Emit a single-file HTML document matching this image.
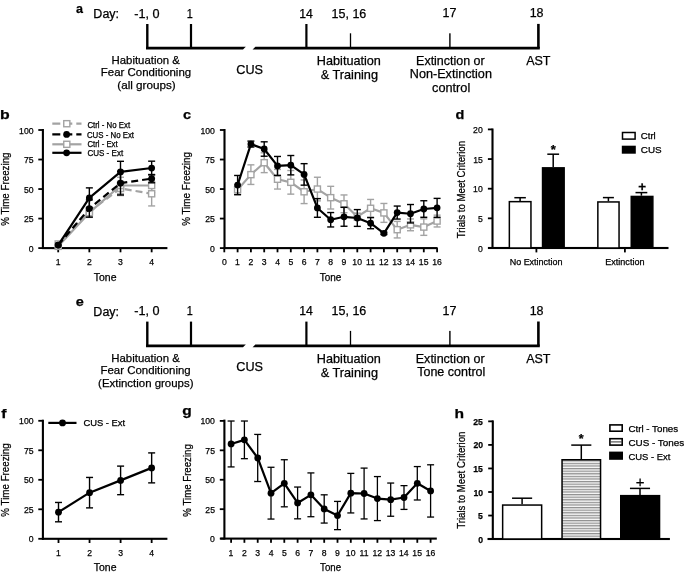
<!DOCTYPE html>
<html><head><meta charset="utf-8"><style>
html,body{margin:0;padding:0;background:#fff;}
svg{display:block;will-change:transform;filter:blur(0.3px);}
text{font-family:"Liberation Sans",sans-serif;stroke:#000;stroke-width:0.25px;}
</style></head><body>
<svg width="685" height="573" viewBox="0 0 685 573">
<rect width="685" height="573" fill="#fff"/>
<polygon points="146,46.80 245.8,46.80 243.0,49.60 146,49.60" fill="#000"/>
<polygon points="255.4,46.80 539.8,46.80 539.8,49.60 252.6,49.60" fill="#000"/>
<rect x="146.10" y="24.00" width="2.40" height="24.20" fill="#000"/>
<rect x="189.90" y="24.00" width="2.20" height="24.20" fill="#000"/>
<rect x="305.30" y="24.00" width="2.20" height="24.20" fill="#000"/>
<rect x="349.85" y="33.30" width="1.30" height="14.90" fill="#000"/>
<rect x="449.20" y="33.30" width="1.40" height="14.90" fill="#000"/>
<rect x="537.10" y="23.90" width="2.60" height="24.30" fill="#000"/>
<text x="93.38" y="18.30" font-size="12" fill="#000" textLength="25.66" lengthAdjust="spacingAndGlyphs">Day:</text>
<text x="134.34" y="17.80" font-size="12" fill="#000" textLength="25.34" lengthAdjust="spacingAndGlyphs">-1, 0</text>
<text x="186.77" y="17.50" font-size="12" fill="#000" textLength="6.05" lengthAdjust="spacingAndGlyphs">1</text>
<text x="299.17" y="17.50" font-size="12" fill="#000" textLength="13.59" lengthAdjust="spacingAndGlyphs">14</text>
<text x="331.55" y="17.50" font-size="12" fill="#000" textLength="34.79" lengthAdjust="spacingAndGlyphs">15, 16</text>
<text x="442.55" y="17.40" font-size="12" fill="#000" textLength="13.88" lengthAdjust="spacingAndGlyphs">17</text>
<text x="529.65" y="17.40" font-size="12" fill="#000" textLength="13.89" lengthAdjust="spacingAndGlyphs">18</text>
<text x="111.57" y="64.10" font-size="11.8" fill="#000" textLength="68.30" lengthAdjust="spacingAndGlyphs">Habituation &amp;</text>
<text x="100.86" y="76.40" font-size="11.8" fill="#000" textLength="90.28" lengthAdjust="spacingAndGlyphs">Fear Conditioning</text>
<text x="117.28" y="89.00" font-size="11.8" fill="#000" textLength="58.45" lengthAdjust="spacingAndGlyphs">(all groups)</text>
<text x="236.37" y="73.80" font-size="12.8" fill="#000" textLength="26.71" lengthAdjust="spacingAndGlyphs">CUS</text>
<text x="316.86" y="65.40" font-size="12.4" fill="#000" textLength="64.05" lengthAdjust="spacingAndGlyphs">Habituation</text>
<text x="320.65" y="78.70" font-size="12.4" fill="#000" textLength="57.37" lengthAdjust="spacingAndGlyphs">&amp; Training</text>
<text x="416.08" y="64.60" font-size="12.4" fill="#000" textLength="68.63" lengthAdjust="spacingAndGlyphs">Extinction or</text>
<text x="409.87" y="78.20" font-size="12.4" fill="#000" textLength="82.04" lengthAdjust="spacingAndGlyphs">Non-Extinction</text>
<text x="432.07" y="91.80" font-size="12.4" fill="#000" textLength="38.18" lengthAdjust="spacingAndGlyphs">control</text>
<text x="526.18" y="65.00" font-size="12.4" fill="#000" textLength="24.31" lengthAdjust="spacingAndGlyphs">AST</text>
<text x="75.94" y="12.80" font-size="13.5" font-weight="bold" fill="#000" textLength="6.98" lengthAdjust="spacingAndGlyphs">a</text>
<polygon points="146,344.40 245.8,344.40 243.0,347.20 146,347.20" fill="#000"/>
<polygon points="255.4,344.40 539.8,344.40 539.8,347.20 252.6,347.20" fill="#000"/>
<rect x="146.10" y="321.60" width="2.40" height="24.20" fill="#000"/>
<rect x="189.90" y="321.60" width="2.20" height="24.20" fill="#000"/>
<rect x="305.30" y="321.60" width="2.20" height="24.20" fill="#000"/>
<rect x="349.85" y="330.90" width="1.30" height="14.90" fill="#000"/>
<rect x="449.20" y="330.90" width="1.40" height="14.90" fill="#000"/>
<rect x="537.10" y="321.50" width="2.60" height="24.30" fill="#000"/>
<text x="93.38" y="315.90" font-size="12" fill="#000" textLength="25.66" lengthAdjust="spacingAndGlyphs">Day:</text>
<text x="134.34" y="315.40" font-size="12" fill="#000" textLength="25.34" lengthAdjust="spacingAndGlyphs">-1, 0</text>
<text x="186.77" y="315.10" font-size="12" fill="#000" textLength="6.05" lengthAdjust="spacingAndGlyphs">1</text>
<text x="299.17" y="315.10" font-size="12" fill="#000" textLength="13.59" lengthAdjust="spacingAndGlyphs">14</text>
<text x="331.55" y="315.10" font-size="12" fill="#000" textLength="34.79" lengthAdjust="spacingAndGlyphs">15, 16</text>
<text x="442.55" y="315.00" font-size="12" fill="#000" textLength="13.88" lengthAdjust="spacingAndGlyphs">17</text>
<text x="529.65" y="315.00" font-size="12" fill="#000" textLength="13.89" lengthAdjust="spacingAndGlyphs">18</text>
<text x="111.26" y="361.90" font-size="11.8" fill="#000" textLength="68.51" lengthAdjust="spacingAndGlyphs">Habituation &amp;</text>
<text x="100.46" y="374.40" font-size="11.8" fill="#000" textLength="90.28" lengthAdjust="spacingAndGlyphs">Fear Conditioning</text>
<text x="98.09" y="386.70" font-size="11.8" fill="#000" textLength="95.42" lengthAdjust="spacingAndGlyphs">(Extinction groups)</text>
<text x="236.37" y="371.40" font-size="12.8" fill="#000" textLength="26.71" lengthAdjust="spacingAndGlyphs">CUS</text>
<text x="316.86" y="363.10" font-size="12.4" fill="#000" textLength="64.05" lengthAdjust="spacingAndGlyphs">Habituation</text>
<text x="320.65" y="376.50" font-size="12.4" fill="#000" textLength="57.37" lengthAdjust="spacingAndGlyphs">&amp; Training</text>
<text x="415.77" y="362.50" font-size="12.4" fill="#000" textLength="68.93" lengthAdjust="spacingAndGlyphs">Extinction or</text>
<text x="417.23" y="376.10" font-size="12.4" fill="#000" textLength="68.10" lengthAdjust="spacingAndGlyphs">Tone control</text>
<text x="526.18" y="362.60" font-size="12.4" fill="#000" textLength="24.31" lengthAdjust="spacingAndGlyphs">AST</text>
<text x="75.83" y="306.00" font-size="13.5" font-weight="bold" fill="#000" textLength="8.06" lengthAdjust="spacingAndGlyphs">e</text>
<rect x="41.85" y="129.00" width="2.10" height="120.00" fill="#000"/>
<rect x="38.30" y="129.10" width="4.60" height="1.80" fill="#000"/>
<text x="19.10" y="133.50" font-size="9.3" fill="#000" textLength="14.43" lengthAdjust="spacingAndGlyphs">100</text>
<rect x="38.30" y="158.62" width="4.60" height="1.80" fill="#000"/>
<text x="23.94" y="163.02" font-size="9.3" fill="#000" textLength="9.62" lengthAdjust="spacingAndGlyphs">75</text>
<rect x="38.30" y="188.15" width="4.60" height="1.80" fill="#000"/>
<text x="23.91" y="192.55" font-size="9.3" fill="#000" textLength="9.62" lengthAdjust="spacingAndGlyphs">50</text>
<rect x="38.30" y="217.67" width="4.60" height="1.80" fill="#000"/>
<text x="23.94" y="222.07" font-size="9.3" fill="#000" textLength="9.62" lengthAdjust="spacingAndGlyphs">25</text>
<rect x="38.30" y="247.20" width="4.60" height="1.80" fill="#000"/>
<text x="28.72" y="251.60" font-size="9.3" fill="#000" textLength="4.81" lengthAdjust="spacingAndGlyphs">0</text>
<rect x="41.90" y="247.05" width="125.50" height="2.10" fill="#000"/>
<rect x="57.30" y="248.10" width="1.80" height="4.20" fill="#000"/>
<text x="55.67" y="264.80" font-size="9.3" fill="#000" textLength="4.81" lengthAdjust="spacingAndGlyphs">1</text>
<rect x="88.45" y="248.10" width="1.80" height="4.20" fill="#000"/>
<text x="86.95" y="264.80" font-size="9.3" fill="#000" textLength="4.81" lengthAdjust="spacingAndGlyphs">2</text>
<rect x="119.60" y="248.10" width="1.80" height="4.20" fill="#000"/>
<text x="118.12" y="264.80" font-size="9.3" fill="#000" textLength="4.81" lengthAdjust="spacingAndGlyphs">3</text>
<rect x="150.75" y="248.10" width="1.80" height="4.20" fill="#000"/>
<text x="149.28" y="264.80" font-size="9.3" fill="#000" textLength="4.81" lengthAdjust="spacingAndGlyphs">4</text>
<text x="93.77" y="280.70" font-size="10" fill="#000" textLength="22.70" lengthAdjust="spacingAndGlyphs">Tone</text>
<text transform="translate(8.92,225.50) rotate(-90)" x="-0.34" y="0" font-size="10.5" textLength="73.37" lengthAdjust="spacingAndGlyphs">% Time Freezing</text>
<text x="-0.13" y="119.00" font-size="13.5" font-weight="bold" fill="#000" textLength="9.68" lengthAdjust="spacingAndGlyphs">b</text>
<line x1="89.35" y1="211.49" x2="89.35" y2="206.76" stroke="#a3a3a3" stroke-width="1.4"/>
<line x1="85.85" y1="206.76" x2="92.85" y2="206.76" stroke="#a3a3a3" stroke-width="1.4"/>
<line x1="89.35" y1="211.49" x2="89.35" y2="216.21" stroke="#a3a3a3" stroke-width="1.4"/>
<line x1="85.85" y1="216.21" x2="92.85" y2="216.21" stroke="#a3a3a3" stroke-width="1.4"/>
<line x1="120.50" y1="188.46" x2="120.50" y2="181.37" stroke="#a3a3a3" stroke-width="1.4"/>
<line x1="117.00" y1="181.37" x2="124.00" y2="181.37" stroke="#a3a3a3" stroke-width="1.4"/>
<line x1="120.50" y1="188.46" x2="120.50" y2="195.55" stroke="#a3a3a3" stroke-width="1.4"/>
<line x1="117.00" y1="195.55" x2="124.00" y2="195.55" stroke="#a3a3a3" stroke-width="1.4"/>
<line x1="151.65" y1="193.77" x2="151.65" y2="181.61" stroke="#a3a3a3" stroke-width="1.4"/>
<line x1="148.15" y1="181.61" x2="155.15" y2="181.61" stroke="#a3a3a3" stroke-width="1.4"/>
<line x1="151.65" y1="193.77" x2="151.65" y2="205.94" stroke="#a3a3a3" stroke-width="1.4"/>
<line x1="148.15" y1="205.94" x2="155.15" y2="205.94" stroke="#a3a3a3" stroke-width="1.4"/>
<line x1="89.35" y1="212.67" x2="89.35" y2="207.95" stroke="#a3a3a3" stroke-width="1.4"/>
<line x1="85.85" y1="207.95" x2="92.85" y2="207.95" stroke="#a3a3a3" stroke-width="1.4"/>
<line x1="89.35" y1="212.67" x2="89.35" y2="217.39" stroke="#a3a3a3" stroke-width="1.4"/>
<line x1="85.85" y1="217.39" x2="92.85" y2="217.39" stroke="#a3a3a3" stroke-width="1.4"/>
<line x1="120.50" y1="185.51" x2="120.50" y2="177.24" stroke="#a3a3a3" stroke-width="1.4"/>
<line x1="117.00" y1="177.24" x2="124.00" y2="177.24" stroke="#a3a3a3" stroke-width="1.4"/>
<line x1="120.50" y1="185.51" x2="120.50" y2="193.77" stroke="#a3a3a3" stroke-width="1.4"/>
<line x1="117.00" y1="193.77" x2="124.00" y2="193.77" stroke="#a3a3a3" stroke-width="1.4"/>
<line x1="151.65" y1="185.51" x2="151.65" y2="178.42" stroke="#a3a3a3" stroke-width="1.4"/>
<line x1="148.15" y1="178.42" x2="155.15" y2="178.42" stroke="#a3a3a3" stroke-width="1.4"/>
<line x1="151.65" y1="185.51" x2="151.65" y2="192.59" stroke="#a3a3a3" stroke-width="1.4"/>
<line x1="148.15" y1="192.59" x2="155.15" y2="192.59" stroke="#a3a3a3" stroke-width="1.4"/>
<polyline points="58.20,243.97 89.35,211.49 120.50,188.46 151.65,193.77" fill="none" stroke="#a3a3a3" stroke-width="2.2" stroke-linejoin="round" stroke-dasharray="7,4"/>
<polyline points="58.20,246.33 89.35,212.67 120.50,185.51 151.65,185.51" fill="none" stroke="#a3a3a3" stroke-width="2.2" stroke-linejoin="round"/>
<rect x="55.15" y="240.92" width="6.10" height="6.10" fill="#fff" stroke="#a3a3a3" stroke-width="1.4"/>
<rect x="86.30" y="208.44" width="6.10" height="6.10" fill="#fff" stroke="#a3a3a3" stroke-width="1.4"/>
<rect x="117.45" y="185.41" width="6.10" height="6.10" fill="#fff" stroke="#a3a3a3" stroke-width="1.4"/>
<rect x="148.60" y="190.72" width="6.10" height="6.10" fill="#fff" stroke="#a3a3a3" stroke-width="1.4"/>
<rect x="55.15" y="243.28" width="6.10" height="6.10" fill="#fff" stroke="#a3a3a3" stroke-width="1.4"/>
<rect x="86.30" y="209.62" width="6.10" height="6.10" fill="#fff" stroke="#a3a3a3" stroke-width="1.4"/>
<rect x="117.45" y="182.46" width="6.10" height="6.10" fill="#fff" stroke="#a3a3a3" stroke-width="1.4"/>
<rect x="148.60" y="182.46" width="6.10" height="6.10" fill="#fff" stroke="#a3a3a3" stroke-width="1.4"/>
<line x1="89.35" y1="208.54" x2="89.35" y2="199.92" stroke="#000" stroke-width="1.4"/>
<line x1="85.85" y1="199.92" x2="92.85" y2="199.92" stroke="#000" stroke-width="1.4"/>
<line x1="89.35" y1="208.54" x2="89.35" y2="217.16" stroke="#000" stroke-width="1.4"/>
<line x1="85.85" y1="217.16" x2="92.85" y2="217.16" stroke="#000" stroke-width="1.4"/>
<line x1="120.50" y1="183.14" x2="120.50" y2="171.33" stroke="#000" stroke-width="1.4"/>
<line x1="117.00" y1="171.33" x2="124.00" y2="171.33" stroke="#000" stroke-width="1.4"/>
<line x1="120.50" y1="183.14" x2="120.50" y2="194.95" stroke="#000" stroke-width="1.4"/>
<line x1="117.00" y1="194.95" x2="124.00" y2="194.95" stroke="#000" stroke-width="1.4"/>
<line x1="151.65" y1="178.66" x2="151.65" y2="174.52" stroke="#000" stroke-width="1.4"/>
<line x1="148.15" y1="174.52" x2="155.15" y2="174.52" stroke="#000" stroke-width="1.4"/>
<line x1="151.65" y1="178.66" x2="151.65" y2="182.79" stroke="#000" stroke-width="1.4"/>
<line x1="148.15" y1="182.79" x2="155.15" y2="182.79" stroke="#000" stroke-width="1.4"/>
<line x1="89.35" y1="197.91" x2="89.35" y2="187.87" stroke="#000" stroke-width="1.4"/>
<line x1="85.85" y1="187.87" x2="92.85" y2="187.87" stroke="#000" stroke-width="1.4"/>
<line x1="89.35" y1="197.91" x2="89.35" y2="207.95" stroke="#000" stroke-width="1.4"/>
<line x1="85.85" y1="207.95" x2="92.85" y2="207.95" stroke="#000" stroke-width="1.4"/>
<line x1="120.50" y1="171.93" x2="120.50" y2="161.30" stroke="#000" stroke-width="1.4"/>
<line x1="117.00" y1="161.30" x2="124.00" y2="161.30" stroke="#000" stroke-width="1.4"/>
<line x1="120.50" y1="171.93" x2="120.50" y2="182.55" stroke="#000" stroke-width="1.4"/>
<line x1="117.00" y1="182.55" x2="124.00" y2="182.55" stroke="#000" stroke-width="1.4"/>
<line x1="151.65" y1="168.03" x2="151.65" y2="161.18" stroke="#000" stroke-width="1.4"/>
<line x1="148.15" y1="161.18" x2="155.15" y2="161.18" stroke="#000" stroke-width="1.4"/>
<line x1="151.65" y1="168.03" x2="151.65" y2="174.88" stroke="#000" stroke-width="1.4"/>
<line x1="148.15" y1="174.88" x2="155.15" y2="174.88" stroke="#000" stroke-width="1.4"/>
<polyline points="58.20,245.03 89.35,208.54 120.50,183.14 151.65,178.66" fill="none" stroke="#000" stroke-width="2.2" stroke-linejoin="round" stroke-dasharray="7,4"/>
<polyline points="58.20,245.03 89.35,197.91 120.50,171.93 151.65,168.03" fill="none" stroke="#000" stroke-width="2.2" stroke-linejoin="round"/>
<circle cx="58.20" cy="245.03" r="3.4" fill="#000"/>
<circle cx="89.35" cy="208.54" r="3.4" fill="#000"/>
<circle cx="120.50" cy="183.14" r="3.4" fill="#000"/>
<circle cx="151.65" cy="178.66" r="3.4" fill="#000"/>
<circle cx="58.20" cy="245.03" r="3.4" fill="#000"/>
<circle cx="89.35" cy="197.91" r="3.4" fill="#000"/>
<circle cx="120.50" cy="171.93" r="3.4" fill="#000"/>
<circle cx="151.65" cy="168.03" r="3.4" fill="#000"/>
<polyline points="52.30,123.70 81.50,123.70" fill="none" stroke="#a3a3a3" stroke-width="2.2" stroke-linejoin="round" stroke-dasharray="8,4"/>
<rect x="63.75" y="120.65" width="6.10" height="6.10" fill="#fff" stroke="#a3a3a3" stroke-width="1.4"/>
<text x="87.41" y="128.00" font-size="8.4" fill="#000" textLength="42.75" lengthAdjust="spacingAndGlyphs">Ctrl - No Ext</text>
<polyline points="52.30,134.40 81.50,134.40" fill="none" stroke="#000" stroke-width="2.2" stroke-linejoin="round" stroke-dasharray="8,4"/>
<circle cx="66.60" cy="134.40" r="3.4" fill="#000"/>
<text x="86.91" y="137.70" font-size="8.4" fill="#000" textLength="47.15" lengthAdjust="spacingAndGlyphs">CUS - No Ext</text>
<polyline points="52.30,144.30 81.50,144.30" fill="none" stroke="#a3a3a3" stroke-width="2.2" stroke-linejoin="round"/>
<rect x="63.75" y="141.25" width="6.10" height="6.10" fill="#fff" stroke="#a3a3a3" stroke-width="1.4"/>
<text x="87.41" y="147.20" font-size="8.4" fill="#000" textLength="30.24" lengthAdjust="spacingAndGlyphs">Ctrl - Ext</text>
<polyline points="52.30,152.80 81.50,152.80" fill="none" stroke="#000" stroke-width="2.2" stroke-linejoin="round"/>
<circle cx="66.60" cy="152.80" r="3.4" fill="#000"/>
<text x="87.40" y="155.50" font-size="8.4" fill="#000" textLength="35.76" lengthAdjust="spacingAndGlyphs">CUS - Ext</text>
<rect x="223.45" y="129.00" width="2.10" height="120.00" fill="#000"/>
<rect x="219.90" y="129.10" width="4.60" height="1.80" fill="#000"/>
<text x="200.40" y="133.50" font-size="9.3" fill="#000" textLength="14.43" lengthAdjust="spacingAndGlyphs">100</text>
<rect x="219.90" y="158.62" width="4.60" height="1.80" fill="#000"/>
<text x="205.24" y="163.02" font-size="9.3" fill="#000" textLength="9.62" lengthAdjust="spacingAndGlyphs">75</text>
<rect x="219.90" y="188.15" width="4.60" height="1.80" fill="#000"/>
<text x="205.21" y="192.55" font-size="9.3" fill="#000" textLength="9.62" lengthAdjust="spacingAndGlyphs">50</text>
<rect x="219.90" y="217.67" width="4.60" height="1.80" fill="#000"/>
<text x="205.24" y="222.07" font-size="9.3" fill="#000" textLength="9.62" lengthAdjust="spacingAndGlyphs">25</text>
<rect x="219.90" y="247.20" width="4.60" height="1.80" fill="#000"/>
<text x="210.02" y="251.60" font-size="9.3" fill="#000" textLength="4.81" lengthAdjust="spacingAndGlyphs">0</text>
<rect x="223.50" y="247.05" width="214.10" height="2.10" fill="#000"/>
<rect x="223.40" y="248.10" width="1.80" height="4.20" fill="#000"/>
<text x="221.89" y="264.80" font-size="9.3" fill="#000" textLength="4.81" lengthAdjust="spacingAndGlyphs">0</text>
<rect x="236.70" y="248.10" width="1.80" height="4.20" fill="#000"/>
<text x="235.07" y="264.80" font-size="9.3" fill="#000" textLength="4.81" lengthAdjust="spacingAndGlyphs">1</text>
<rect x="250.00" y="248.10" width="1.80" height="4.20" fill="#000"/>
<text x="248.50" y="264.80" font-size="9.3" fill="#000" textLength="4.81" lengthAdjust="spacingAndGlyphs">2</text>
<rect x="263.30" y="248.10" width="1.80" height="4.20" fill="#000"/>
<text x="261.82" y="264.80" font-size="9.3" fill="#000" textLength="4.81" lengthAdjust="spacingAndGlyphs">3</text>
<rect x="276.60" y="248.10" width="1.80" height="4.20" fill="#000"/>
<text x="275.13" y="264.80" font-size="9.3" fill="#000" textLength="4.81" lengthAdjust="spacingAndGlyphs">4</text>
<rect x="289.90" y="248.10" width="1.80" height="4.20" fill="#000"/>
<text x="288.40" y="264.80" font-size="9.3" fill="#000" textLength="4.81" lengthAdjust="spacingAndGlyphs">5</text>
<rect x="303.20" y="248.10" width="1.80" height="4.20" fill="#000"/>
<text x="301.67" y="264.80" font-size="9.3" fill="#000" textLength="4.81" lengthAdjust="spacingAndGlyphs">6</text>
<rect x="316.50" y="248.10" width="1.80" height="4.20" fill="#000"/>
<text x="314.99" y="264.80" font-size="9.3" fill="#000" textLength="4.81" lengthAdjust="spacingAndGlyphs">7</text>
<rect x="329.80" y="248.10" width="1.80" height="4.20" fill="#000"/>
<text x="328.30" y="264.80" font-size="9.3" fill="#000" textLength="4.81" lengthAdjust="spacingAndGlyphs">8</text>
<rect x="343.10" y="248.10" width="1.80" height="4.20" fill="#000"/>
<text x="341.60" y="264.80" font-size="9.3" fill="#000" textLength="4.81" lengthAdjust="spacingAndGlyphs">9</text>
<rect x="356.40" y="248.10" width="1.80" height="4.20" fill="#000"/>
<text x="352.33" y="264.80" font-size="9.3" fill="#000" textLength="9.62" lengthAdjust="spacingAndGlyphs">10</text>
<rect x="369.70" y="248.10" width="1.80" height="4.20" fill="#000"/>
<text x="365.99" y="264.80" font-size="9.3" fill="#000" textLength="8.98" lengthAdjust="spacingAndGlyphs">11</text>
<rect x="383.00" y="248.10" width="1.80" height="4.20" fill="#000"/>
<text x="378.98" y="264.80" font-size="9.3" fill="#000" textLength="9.62" lengthAdjust="spacingAndGlyphs">12</text>
<rect x="396.30" y="248.10" width="1.80" height="4.20" fill="#000"/>
<text x="392.25" y="264.80" font-size="9.3" fill="#000" textLength="9.62" lengthAdjust="spacingAndGlyphs">13</text>
<rect x="409.60" y="248.10" width="1.80" height="4.20" fill="#000"/>
<text x="405.49" y="264.80" font-size="9.3" fill="#000" textLength="9.62" lengthAdjust="spacingAndGlyphs">14</text>
<rect x="422.90" y="248.10" width="1.80" height="4.20" fill="#000"/>
<text x="418.84" y="264.80" font-size="9.3" fill="#000" textLength="9.62" lengthAdjust="spacingAndGlyphs">15</text>
<rect x="436.20" y="248.10" width="1.80" height="4.20" fill="#000"/>
<text x="432.15" y="264.80" font-size="9.3" fill="#000" textLength="9.62" lengthAdjust="spacingAndGlyphs">16</text>
<text x="319.78" y="280.80" font-size="10" fill="#000" textLength="21.56" lengthAdjust="spacingAndGlyphs">Tone</text>
<text transform="translate(190.22,225.50) rotate(-90)" x="-0.34" y="0" font-size="10.5" textLength="73.78" lengthAdjust="spacingAndGlyphs">% Time Freezing</text>
<text x="183.03" y="119.10" font-size="13.5" font-weight="bold" fill="#000" textLength="8.09" lengthAdjust="spacingAndGlyphs">c</text>
<line x1="237.60" y1="189.76" x2="237.60" y2="184.68" stroke="#a3a3a3" stroke-width="1.4"/>
<line x1="234.10" y1="184.68" x2="241.10" y2="184.68" stroke="#a3a3a3" stroke-width="1.4"/>
<line x1="237.60" y1="189.76" x2="237.60" y2="194.84" stroke="#a3a3a3" stroke-width="1.4"/>
<line x1="234.10" y1="194.84" x2="241.10" y2="194.84" stroke="#a3a3a3" stroke-width="1.4"/>
<line x1="250.90" y1="174.64" x2="250.90" y2="164.84" stroke="#a3a3a3" stroke-width="1.4"/>
<line x1="247.40" y1="164.84" x2="254.40" y2="164.84" stroke="#a3a3a3" stroke-width="1.4"/>
<line x1="250.90" y1="174.64" x2="250.90" y2="184.44" stroke="#a3a3a3" stroke-width="1.4"/>
<line x1="247.40" y1="184.44" x2="254.40" y2="184.44" stroke="#a3a3a3" stroke-width="1.4"/>
<line x1="264.20" y1="162.71" x2="264.20" y2="152.79" stroke="#a3a3a3" stroke-width="1.4"/>
<line x1="260.70" y1="152.79" x2="267.70" y2="152.79" stroke="#a3a3a3" stroke-width="1.4"/>
<line x1="264.20" y1="162.71" x2="264.20" y2="172.63" stroke="#a3a3a3" stroke-width="1.4"/>
<line x1="260.70" y1="172.63" x2="267.70" y2="172.63" stroke="#a3a3a3" stroke-width="1.4"/>
<line x1="277.50" y1="179.25" x2="277.50" y2="169.45" stroke="#a3a3a3" stroke-width="1.4"/>
<line x1="274.00" y1="169.45" x2="281.00" y2="169.45" stroke="#a3a3a3" stroke-width="1.4"/>
<line x1="277.50" y1="179.25" x2="277.50" y2="189.05" stroke="#a3a3a3" stroke-width="1.4"/>
<line x1="274.00" y1="189.05" x2="281.00" y2="189.05" stroke="#a3a3a3" stroke-width="1.4"/>
<line x1="290.80" y1="182.32" x2="290.80" y2="170.51" stroke="#a3a3a3" stroke-width="1.4"/>
<line x1="287.30" y1="170.51" x2="294.30" y2="170.51" stroke="#a3a3a3" stroke-width="1.4"/>
<line x1="290.80" y1="182.32" x2="290.80" y2="194.13" stroke="#a3a3a3" stroke-width="1.4"/>
<line x1="287.30" y1="194.13" x2="294.30" y2="194.13" stroke="#a3a3a3" stroke-width="1.4"/>
<line x1="304.10" y1="191.77" x2="304.10" y2="179.96" stroke="#a3a3a3" stroke-width="1.4"/>
<line x1="300.60" y1="179.96" x2="307.60" y2="179.96" stroke="#a3a3a3" stroke-width="1.4"/>
<line x1="304.10" y1="191.77" x2="304.10" y2="203.58" stroke="#a3a3a3" stroke-width="1.4"/>
<line x1="300.60" y1="203.58" x2="307.60" y2="203.58" stroke="#a3a3a3" stroke-width="1.4"/>
<line x1="317.40" y1="189.05" x2="317.40" y2="177.24" stroke="#a3a3a3" stroke-width="1.4"/>
<line x1="313.90" y1="177.24" x2="320.90" y2="177.24" stroke="#a3a3a3" stroke-width="1.4"/>
<line x1="317.40" y1="189.05" x2="317.40" y2="200.86" stroke="#a3a3a3" stroke-width="1.4"/>
<line x1="313.90" y1="200.86" x2="320.90" y2="200.86" stroke="#a3a3a3" stroke-width="1.4"/>
<line x1="330.70" y1="197.67" x2="330.70" y2="186.33" stroke="#a3a3a3" stroke-width="1.4"/>
<line x1="327.20" y1="186.33" x2="334.20" y2="186.33" stroke="#a3a3a3" stroke-width="1.4"/>
<line x1="330.70" y1="197.67" x2="330.70" y2="209.01" stroke="#a3a3a3" stroke-width="1.4"/>
<line x1="327.20" y1="209.01" x2="334.20" y2="209.01" stroke="#a3a3a3" stroke-width="1.4"/>
<line x1="344.00" y1="203.81" x2="344.00" y2="194.95" stroke="#a3a3a3" stroke-width="1.4"/>
<line x1="340.50" y1="194.95" x2="347.50" y2="194.95" stroke="#a3a3a3" stroke-width="1.4"/>
<line x1="344.00" y1="203.81" x2="344.00" y2="212.67" stroke="#a3a3a3" stroke-width="1.4"/>
<line x1="340.50" y1="212.67" x2="347.50" y2="212.67" stroke="#a3a3a3" stroke-width="1.4"/>
<line x1="357.30" y1="216.69" x2="357.30" y2="213.14" stroke="#a3a3a3" stroke-width="1.4"/>
<line x1="353.80" y1="213.14" x2="360.80" y2="213.14" stroke="#a3a3a3" stroke-width="1.4"/>
<line x1="357.30" y1="216.69" x2="357.30" y2="220.23" stroke="#a3a3a3" stroke-width="1.4"/>
<line x1="353.80" y1="220.23" x2="360.80" y2="220.23" stroke="#a3a3a3" stroke-width="1.4"/>
<line x1="370.60" y1="208.30" x2="370.60" y2="199.44" stroke="#a3a3a3" stroke-width="1.4"/>
<line x1="367.10" y1="199.44" x2="374.10" y2="199.44" stroke="#a3a3a3" stroke-width="1.4"/>
<line x1="370.60" y1="208.30" x2="370.60" y2="217.16" stroke="#a3a3a3" stroke-width="1.4"/>
<line x1="367.10" y1="217.16" x2="374.10" y2="217.16" stroke="#a3a3a3" stroke-width="1.4"/>
<line x1="383.90" y1="212.91" x2="383.90" y2="203.46" stroke="#a3a3a3" stroke-width="1.4"/>
<line x1="380.40" y1="203.46" x2="387.40" y2="203.46" stroke="#a3a3a3" stroke-width="1.4"/>
<line x1="383.90" y1="212.91" x2="383.90" y2="222.35" stroke="#a3a3a3" stroke-width="1.4"/>
<line x1="380.40" y1="222.35" x2="387.40" y2="222.35" stroke="#a3a3a3" stroke-width="1.4"/>
<line x1="397.20" y1="229.68" x2="397.20" y2="221.41" stroke="#a3a3a3" stroke-width="1.4"/>
<line x1="393.70" y1="221.41" x2="400.70" y2="221.41" stroke="#a3a3a3" stroke-width="1.4"/>
<line x1="397.20" y1="229.68" x2="397.20" y2="237.94" stroke="#a3a3a3" stroke-width="1.4"/>
<line x1="393.70" y1="237.94" x2="400.70" y2="237.94" stroke="#a3a3a3" stroke-width="1.4"/>
<line x1="410.50" y1="224.83" x2="410.50" y2="218.93" stroke="#a3a3a3" stroke-width="1.4"/>
<line x1="407.00" y1="218.93" x2="414.00" y2="218.93" stroke="#a3a3a3" stroke-width="1.4"/>
<line x1="410.50" y1="224.83" x2="410.50" y2="230.74" stroke="#a3a3a3" stroke-width="1.4"/>
<line x1="407.00" y1="230.74" x2="414.00" y2="230.74" stroke="#a3a3a3" stroke-width="1.4"/>
<line x1="423.80" y1="227.08" x2="423.80" y2="218.81" stroke="#a3a3a3" stroke-width="1.4"/>
<line x1="420.30" y1="218.81" x2="427.30" y2="218.81" stroke="#a3a3a3" stroke-width="1.4"/>
<line x1="423.80" y1="227.08" x2="423.80" y2="235.35" stroke="#a3a3a3" stroke-width="1.4"/>
<line x1="420.30" y1="235.35" x2="427.30" y2="235.35" stroke="#a3a3a3" stroke-width="1.4"/>
<line x1="437.10" y1="221.06" x2="437.10" y2="215.15" stroke="#a3a3a3" stroke-width="1.4"/>
<line x1="433.60" y1="215.15" x2="440.60" y2="215.15" stroke="#a3a3a3" stroke-width="1.4"/>
<line x1="437.10" y1="221.06" x2="437.10" y2="226.96" stroke="#a3a3a3" stroke-width="1.4"/>
<line x1="433.60" y1="226.96" x2="440.60" y2="226.96" stroke="#a3a3a3" stroke-width="1.4"/>
<polyline points="237.60,189.76 250.90,174.64 264.20,162.71 277.50,179.25 290.80,182.32 304.10,191.77 317.40,189.05 330.70,197.67 344.00,203.81 357.30,216.69 370.60,208.30 383.90,212.91 397.20,229.68 410.50,224.83 423.80,227.08 437.10,221.06" fill="none" stroke="#a3a3a3" stroke-width="2.2" stroke-linejoin="round"/>
<rect x="234.55" y="186.71" width="6.10" height="6.10" fill="#fff" stroke="#a3a3a3" stroke-width="1.4"/>
<rect x="247.85" y="171.59" width="6.10" height="6.10" fill="#fff" stroke="#a3a3a3" stroke-width="1.4"/>
<rect x="261.15" y="159.66" width="6.10" height="6.10" fill="#fff" stroke="#a3a3a3" stroke-width="1.4"/>
<rect x="274.45" y="176.20" width="6.10" height="6.10" fill="#fff" stroke="#a3a3a3" stroke-width="1.4"/>
<rect x="287.75" y="179.27" width="6.10" height="6.10" fill="#fff" stroke="#a3a3a3" stroke-width="1.4"/>
<rect x="301.05" y="188.72" width="6.10" height="6.10" fill="#fff" stroke="#a3a3a3" stroke-width="1.4"/>
<rect x="314.35" y="186.00" width="6.10" height="6.10" fill="#fff" stroke="#a3a3a3" stroke-width="1.4"/>
<rect x="327.65" y="194.62" width="6.10" height="6.10" fill="#fff" stroke="#a3a3a3" stroke-width="1.4"/>
<rect x="340.95" y="200.76" width="6.10" height="6.10" fill="#fff" stroke="#a3a3a3" stroke-width="1.4"/>
<rect x="354.25" y="213.64" width="6.10" height="6.10" fill="#fff" stroke="#a3a3a3" stroke-width="1.4"/>
<rect x="367.55" y="205.25" width="6.10" height="6.10" fill="#fff" stroke="#a3a3a3" stroke-width="1.4"/>
<rect x="380.85" y="209.86" width="6.10" height="6.10" fill="#fff" stroke="#a3a3a3" stroke-width="1.4"/>
<rect x="394.15" y="226.63" width="6.10" height="6.10" fill="#fff" stroke="#a3a3a3" stroke-width="1.4"/>
<rect x="407.45" y="221.78" width="6.10" height="6.10" fill="#fff" stroke="#a3a3a3" stroke-width="1.4"/>
<rect x="420.75" y="224.03" width="6.10" height="6.10" fill="#fff" stroke="#a3a3a3" stroke-width="1.4"/>
<rect x="434.05" y="218.01" width="6.10" height="6.10" fill="#fff" stroke="#a3a3a3" stroke-width="1.4"/>
<line x1="237.60" y1="185.03" x2="237.60" y2="175.47" stroke="#000" stroke-width="1.4"/>
<line x1="234.10" y1="175.47" x2="241.10" y2="175.47" stroke="#000" stroke-width="1.4"/>
<line x1="237.60" y1="185.03" x2="237.60" y2="194.60" stroke="#000" stroke-width="1.4"/>
<line x1="234.10" y1="194.60" x2="241.10" y2="194.60" stroke="#000" stroke-width="1.4"/>
<line x1="250.90" y1="144.05" x2="250.90" y2="141.10" stroke="#000" stroke-width="1.4"/>
<line x1="247.40" y1="141.10" x2="254.40" y2="141.10" stroke="#000" stroke-width="1.4"/>
<line x1="250.90" y1="144.05" x2="250.90" y2="147.01" stroke="#000" stroke-width="1.4"/>
<line x1="247.40" y1="147.01" x2="254.40" y2="147.01" stroke="#000" stroke-width="1.4"/>
<line x1="264.20" y1="149.01" x2="264.20" y2="141.81" stroke="#000" stroke-width="1.4"/>
<line x1="260.70" y1="141.81" x2="267.70" y2="141.81" stroke="#000" stroke-width="1.4"/>
<line x1="264.20" y1="149.01" x2="264.20" y2="156.22" stroke="#000" stroke-width="1.4"/>
<line x1="260.70" y1="156.22" x2="267.70" y2="156.22" stroke="#000" stroke-width="1.4"/>
<line x1="277.50" y1="165.90" x2="277.50" y2="156.45" stroke="#000" stroke-width="1.4"/>
<line x1="274.00" y1="156.45" x2="281.00" y2="156.45" stroke="#000" stroke-width="1.4"/>
<line x1="277.50" y1="165.90" x2="277.50" y2="175.35" stroke="#000" stroke-width="1.4"/>
<line x1="274.00" y1="175.35" x2="281.00" y2="175.35" stroke="#000" stroke-width="1.4"/>
<line x1="290.80" y1="165.19" x2="290.80" y2="155.51" stroke="#000" stroke-width="1.4"/>
<line x1="287.30" y1="155.51" x2="294.30" y2="155.51" stroke="#000" stroke-width="1.4"/>
<line x1="290.80" y1="165.19" x2="290.80" y2="174.88" stroke="#000" stroke-width="1.4"/>
<line x1="287.30" y1="174.88" x2="294.30" y2="174.88" stroke="#000" stroke-width="1.4"/>
<line x1="304.10" y1="174.41" x2="304.10" y2="163.66" stroke="#000" stroke-width="1.4"/>
<line x1="300.60" y1="163.66" x2="307.60" y2="163.66" stroke="#000" stroke-width="1.4"/>
<line x1="304.10" y1="174.41" x2="304.10" y2="185.15" stroke="#000" stroke-width="1.4"/>
<line x1="300.60" y1="185.15" x2="307.60" y2="185.15" stroke="#000" stroke-width="1.4"/>
<line x1="317.40" y1="207.95" x2="317.40" y2="198.62" stroke="#000" stroke-width="1.4"/>
<line x1="313.90" y1="198.62" x2="320.90" y2="198.62" stroke="#000" stroke-width="1.4"/>
<line x1="317.40" y1="207.95" x2="317.40" y2="217.28" stroke="#000" stroke-width="1.4"/>
<line x1="313.90" y1="217.28" x2="320.90" y2="217.28" stroke="#000" stroke-width="1.4"/>
<line x1="330.70" y1="219.76" x2="330.70" y2="212.55" stroke="#000" stroke-width="1.4"/>
<line x1="327.20" y1="212.55" x2="334.20" y2="212.55" stroke="#000" stroke-width="1.4"/>
<line x1="330.70" y1="219.76" x2="330.70" y2="226.96" stroke="#000" stroke-width="1.4"/>
<line x1="327.20" y1="226.96" x2="334.20" y2="226.96" stroke="#000" stroke-width="1.4"/>
<line x1="344.00" y1="216.80" x2="344.00" y2="207.36" stroke="#000" stroke-width="1.4"/>
<line x1="340.50" y1="207.36" x2="347.50" y2="207.36" stroke="#000" stroke-width="1.4"/>
<line x1="344.00" y1="216.80" x2="344.00" y2="226.25" stroke="#000" stroke-width="1.4"/>
<line x1="340.50" y1="226.25" x2="347.50" y2="226.25" stroke="#000" stroke-width="1.4"/>
<line x1="357.30" y1="217.98" x2="357.30" y2="209.60" stroke="#000" stroke-width="1.4"/>
<line x1="353.80" y1="209.60" x2="360.80" y2="209.60" stroke="#000" stroke-width="1.4"/>
<line x1="357.30" y1="217.98" x2="357.30" y2="226.37" stroke="#000" stroke-width="1.4"/>
<line x1="353.80" y1="226.37" x2="360.80" y2="226.37" stroke="#000" stroke-width="1.4"/>
<line x1="370.60" y1="223.18" x2="370.60" y2="217.63" stroke="#000" stroke-width="1.4"/>
<line x1="367.10" y1="217.63" x2="374.10" y2="217.63" stroke="#000" stroke-width="1.4"/>
<line x1="370.60" y1="223.18" x2="370.60" y2="228.73" stroke="#000" stroke-width="1.4"/>
<line x1="367.10" y1="228.73" x2="374.10" y2="228.73" stroke="#000" stroke-width="1.4"/>
<line x1="383.90" y1="233.34" x2="383.90" y2="232.16" stroke="#000" stroke-width="1.4"/>
<line x1="380.40" y1="232.16" x2="387.40" y2="232.16" stroke="#000" stroke-width="1.4"/>
<line x1="383.90" y1="233.34" x2="383.90" y2="234.52" stroke="#000" stroke-width="1.4"/>
<line x1="380.40" y1="234.52" x2="387.40" y2="234.52" stroke="#000" stroke-width="1.4"/>
<line x1="397.20" y1="212.55" x2="397.20" y2="206.06" stroke="#000" stroke-width="1.4"/>
<line x1="393.70" y1="206.06" x2="400.70" y2="206.06" stroke="#000" stroke-width="1.4"/>
<line x1="397.20" y1="212.55" x2="397.20" y2="219.05" stroke="#000" stroke-width="1.4"/>
<line x1="393.70" y1="219.05" x2="400.70" y2="219.05" stroke="#000" stroke-width="1.4"/>
<line x1="410.50" y1="213.73" x2="410.50" y2="204.52" stroke="#000" stroke-width="1.4"/>
<line x1="407.00" y1="204.52" x2="414.00" y2="204.52" stroke="#000" stroke-width="1.4"/>
<line x1="410.50" y1="213.73" x2="410.50" y2="222.94" stroke="#000" stroke-width="1.4"/>
<line x1="407.00" y1="222.94" x2="414.00" y2="222.94" stroke="#000" stroke-width="1.4"/>
<line x1="423.80" y1="209.01" x2="423.80" y2="200.74" stroke="#000" stroke-width="1.4"/>
<line x1="420.30" y1="200.74" x2="427.30" y2="200.74" stroke="#000" stroke-width="1.4"/>
<line x1="423.80" y1="209.01" x2="423.80" y2="217.28" stroke="#000" stroke-width="1.4"/>
<line x1="420.30" y1="217.28" x2="427.30" y2="217.28" stroke="#000" stroke-width="1.4"/>
<line x1="437.10" y1="207.83" x2="437.10" y2="198.38" stroke="#000" stroke-width="1.4"/>
<line x1="433.60" y1="198.38" x2="440.60" y2="198.38" stroke="#000" stroke-width="1.4"/>
<line x1="437.10" y1="207.83" x2="437.10" y2="217.28" stroke="#000" stroke-width="1.4"/>
<line x1="433.60" y1="217.28" x2="440.60" y2="217.28" stroke="#000" stroke-width="1.4"/>
<polyline points="237.60,185.03 250.90,144.05 264.20,149.01 277.50,165.90 290.80,165.19 304.10,174.41 317.40,207.95 330.70,219.76 344.00,216.80 357.30,217.98 370.60,223.18 383.90,233.34 397.20,212.55 410.50,213.73 423.80,209.01 437.10,207.83" fill="none" stroke="#000" stroke-width="2.2" stroke-linejoin="round"/>
<circle cx="237.60" cy="185.03" r="3.4" fill="#000"/>
<circle cx="250.90" cy="144.05" r="3.4" fill="#000"/>
<circle cx="264.20" cy="149.01" r="3.4" fill="#000"/>
<circle cx="277.50" cy="165.90" r="3.4" fill="#000"/>
<circle cx="290.80" cy="165.19" r="3.4" fill="#000"/>
<circle cx="304.10" cy="174.41" r="3.4" fill="#000"/>
<circle cx="317.40" cy="207.95" r="3.4" fill="#000"/>
<circle cx="330.70" cy="219.76" r="3.4" fill="#000"/>
<circle cx="344.00" cy="216.80" r="3.4" fill="#000"/>
<circle cx="357.30" cy="217.98" r="3.4" fill="#000"/>
<circle cx="370.60" cy="223.18" r="3.4" fill="#000"/>
<circle cx="383.90" cy="233.34" r="3.4" fill="#000"/>
<circle cx="397.20" cy="212.55" r="3.4" fill="#000"/>
<circle cx="410.50" cy="213.73" r="3.4" fill="#000"/>
<circle cx="423.80" cy="209.01" r="3.4" fill="#000"/>
<circle cx="437.10" cy="207.83" r="3.4" fill="#000"/>
<rect x="491.45" y="128.50" width="2.10" height="120.40" fill="#000"/>
<rect x="487.90" y="128.50" width="4.60" height="1.80" fill="#000"/>
<text x="473.11" y="132.90" font-size="9.3" fill="#000" textLength="9.62" lengthAdjust="spacingAndGlyphs">20</text>
<rect x="487.90" y="158.15" width="4.60" height="1.80" fill="#000"/>
<text x="473.14" y="162.55" font-size="9.3" fill="#000" textLength="9.62" lengthAdjust="spacingAndGlyphs">15</text>
<rect x="487.90" y="187.80" width="4.60" height="1.80" fill="#000"/>
<text x="473.11" y="192.20" font-size="9.3" fill="#000" textLength="9.62" lengthAdjust="spacingAndGlyphs">10</text>
<rect x="487.90" y="217.45" width="4.60" height="1.80" fill="#000"/>
<text x="477.95" y="221.85" font-size="9.3" fill="#000" textLength="4.81" lengthAdjust="spacingAndGlyphs">5</text>
<rect x="487.90" y="247.10" width="4.60" height="1.80" fill="#000"/>
<text x="477.92" y="251.50" font-size="9.3" fill="#000" textLength="4.81" lengthAdjust="spacingAndGlyphs">0</text>
<rect x="488.00" y="246.95" width="180.50" height="2.10" fill="#000"/>
<rect x="535.50" y="248.00" width="1.80" height="4.40" fill="#000"/>
<rect x="624.00" y="248.00" width="1.80" height="4.40" fill="#000"/>
<text x="509.66" y="264.60" font-size="8.8" fill="#000" textLength="52.92" lengthAdjust="spacingAndGlyphs">No Extinction</text>
<text x="605.26" y="264.60" font-size="8.8" fill="#000" textLength="39.23" lengthAdjust="spacingAndGlyphs">Extinction</text>
<text transform="translate(464.68,238.00) rotate(-90)" x="-0.21" y="0" font-size="10" textLength="97.33" lengthAdjust="spacingAndGlyphs">Trials to Meet Criterion</text>
<text x="455.41" y="118.70" font-size="13.5" font-weight="bold" fill="#000" textLength="8.85" lengthAdjust="spacingAndGlyphs">d</text>
<line x1="520.10" y1="200.90" x2="520.10" y2="197.70" stroke="#000" stroke-width="1.5"/>
<line x1="514.35" y1="197.70" x2="525.85" y2="197.70" stroke="#000" stroke-width="1.5"/>
<rect x="509.35" y="201.65" width="21.60" height="46.35" fill="#fff" stroke="#000" stroke-width="1.5"/>
<line x1="553.20" y1="167.10" x2="553.20" y2="154.20" stroke="#000" stroke-width="1.5"/>
<line x1="547.30" y1="154.20" x2="559.10" y2="154.20" stroke="#000" stroke-width="1.5"/>
<rect x="542.55" y="167.85" width="21.60" height="80.15" fill="#000" stroke="#000" stroke-width="1.5"/>
<line x1="608.40" y1="201.20" x2="608.40" y2="197.60" stroke="#000" stroke-width="1.5"/>
<line x1="602.90" y1="197.60" x2="613.90" y2="197.60" stroke="#000" stroke-width="1.5"/>
<rect x="597.85" y="201.95" width="21.20" height="46.05" fill="#fff" stroke="#000" stroke-width="1.5"/>
<line x1="641.40" y1="195.70" x2="641.40" y2="192.60" stroke="#000" stroke-width="1.5"/>
<line x1="635.50" y1="192.60" x2="647.30" y2="192.60" stroke="#000" stroke-width="1.5"/>
<rect x="631.25" y="196.45" width="21.60" height="51.55" fill="#000" stroke="#000" stroke-width="1.5"/>
<text x="550.86" y="154.10" font-size="13" font-weight="bold" fill="#000" textLength="5.06" lengthAdjust="spacingAndGlyphs">*</text>
<text x="638.37" y="190.75" font-size="13.4" font-weight="bold" fill="#000" textLength="7.83" lengthAdjust="spacingAndGlyphs">+</text>
<rect x="622.50" y="132.50" width="12.60" height="6.60" fill="#fff" stroke="#000" stroke-width="1.5"/>
<rect x="621.80" y="145.70" width="14.00" height="8.00" fill="#000"/>
<text x="640.82" y="139.10" font-size="9.5" fill="#000" textLength="14.91" lengthAdjust="spacingAndGlyphs">Ctrl</text>
<text x="640.81" y="153.10" font-size="9.5" fill="#000" textLength="20.84" lengthAdjust="spacingAndGlyphs">CUS</text>
<rect x="41.85" y="419.70" width="2.10" height="120.00" fill="#000"/>
<rect x="38.30" y="419.90" width="4.60" height="1.80" fill="#000"/>
<text x="19.10" y="424.30" font-size="9.3" fill="#000" textLength="14.43" lengthAdjust="spacingAndGlyphs">100</text>
<rect x="38.30" y="449.40" width="4.60" height="1.80" fill="#000"/>
<text x="23.94" y="453.80" font-size="9.3" fill="#000" textLength="9.62" lengthAdjust="spacingAndGlyphs">75</text>
<rect x="38.30" y="478.90" width="4.60" height="1.80" fill="#000"/>
<text x="23.91" y="483.30" font-size="9.3" fill="#000" textLength="9.62" lengthAdjust="spacingAndGlyphs">50</text>
<rect x="38.30" y="508.40" width="4.60" height="1.80" fill="#000"/>
<text x="23.94" y="512.80" font-size="9.3" fill="#000" textLength="9.62" lengthAdjust="spacingAndGlyphs">25</text>
<rect x="38.30" y="537.90" width="4.60" height="1.80" fill="#000"/>
<text x="28.72" y="542.30" font-size="9.3" fill="#000" textLength="4.81" lengthAdjust="spacingAndGlyphs">0</text>
<rect x="41.90" y="537.75" width="125.50" height="2.10" fill="#000"/>
<rect x="57.60" y="538.80" width="1.80" height="4.20" fill="#000"/>
<text x="55.97" y="555.60" font-size="9.3" fill="#000" textLength="4.81" lengthAdjust="spacingAndGlyphs">1</text>
<rect x="88.65" y="538.80" width="1.80" height="4.20" fill="#000"/>
<text x="87.15" y="555.60" font-size="9.3" fill="#000" textLength="4.81" lengthAdjust="spacingAndGlyphs">2</text>
<rect x="119.70" y="538.80" width="1.80" height="4.20" fill="#000"/>
<text x="118.22" y="555.60" font-size="9.3" fill="#000" textLength="4.81" lengthAdjust="spacingAndGlyphs">3</text>
<rect x="150.75" y="538.80" width="1.80" height="4.20" fill="#000"/>
<text x="149.28" y="555.60" font-size="9.3" fill="#000" textLength="4.81" lengthAdjust="spacingAndGlyphs">4</text>
<text x="93.77" y="571.20" font-size="10" fill="#000" textLength="22.70" lengthAdjust="spacingAndGlyphs">Tone</text>
<text transform="translate(8.92,516.30) rotate(-90)" x="-0.34" y="0" font-size="10.5" textLength="73.27" lengthAdjust="spacingAndGlyphs">% Time Freezing</text>
<text x="1.33" y="417.60" font-size="13.5" font-weight="bold" fill="#000" textLength="5.24" lengthAdjust="spacingAndGlyphs">f</text>
<line x1="58.50" y1="512.13" x2="58.50" y2="502.46" stroke="#000" stroke-width="1.4"/>
<line x1="55.00" y1="502.46" x2="62.00" y2="502.46" stroke="#000" stroke-width="1.4"/>
<line x1="58.50" y1="512.13" x2="58.50" y2="521.81" stroke="#000" stroke-width="1.4"/>
<line x1="55.00" y1="521.81" x2="62.00" y2="521.81" stroke="#000" stroke-width="1.4"/>
<line x1="89.55" y1="492.66" x2="89.55" y2="477.44" stroke="#000" stroke-width="1.4"/>
<line x1="86.05" y1="477.44" x2="93.05" y2="477.44" stroke="#000" stroke-width="1.4"/>
<line x1="89.55" y1="492.66" x2="89.55" y2="507.88" stroke="#000" stroke-width="1.4"/>
<line x1="86.05" y1="507.88" x2="93.05" y2="507.88" stroke="#000" stroke-width="1.4"/>
<line x1="120.60" y1="480.39" x2="120.60" y2="466.11" stroke="#000" stroke-width="1.4"/>
<line x1="117.10" y1="466.11" x2="124.10" y2="466.11" stroke="#000" stroke-width="1.4"/>
<line x1="120.60" y1="480.39" x2="120.60" y2="494.67" stroke="#000" stroke-width="1.4"/>
<line x1="117.10" y1="494.67" x2="124.10" y2="494.67" stroke="#000" stroke-width="1.4"/>
<line x1="151.65" y1="467.88" x2="151.65" y2="452.90" stroke="#000" stroke-width="1.4"/>
<line x1="148.15" y1="452.90" x2="155.15" y2="452.90" stroke="#000" stroke-width="1.4"/>
<line x1="151.65" y1="467.88" x2="151.65" y2="482.87" stroke="#000" stroke-width="1.4"/>
<line x1="148.15" y1="482.87" x2="155.15" y2="482.87" stroke="#000" stroke-width="1.4"/>
<polyline points="58.50,512.13 89.55,492.66 120.60,480.39 151.65,467.88" fill="none" stroke="#000" stroke-width="2.2" stroke-linejoin="round"/>
<circle cx="58.50" cy="512.13" r="3.4" fill="#000"/>
<circle cx="89.55" cy="492.66" r="3.4" fill="#000"/>
<circle cx="120.60" cy="480.39" r="3.4" fill="#000"/>
<circle cx="151.65" cy="467.88" r="3.4" fill="#000"/>
<polyline points="48.30,422.90 76.50,422.90" fill="none" stroke="#000" stroke-width="2.2" stroke-linejoin="round"/>
<circle cx="62.50" cy="422.90" r="3.4" fill="#000"/>
<text x="83.43" y="426.30" font-size="9.2" fill="#000" textLength="41.73" lengthAdjust="spacingAndGlyphs">CUS - Ext</text>
<rect x="223.35" y="419.60" width="2.10" height="119.90" fill="#000"/>
<rect x="219.80" y="420.00" width="4.60" height="1.80" fill="#000"/>
<text x="200.50" y="424.40" font-size="9.3" fill="#000" textLength="14.43" lengthAdjust="spacingAndGlyphs">100</text>
<rect x="219.80" y="449.43" width="4.60" height="1.80" fill="#000"/>
<text x="205.34" y="453.83" font-size="9.3" fill="#000" textLength="9.62" lengthAdjust="spacingAndGlyphs">75</text>
<rect x="219.80" y="478.85" width="4.60" height="1.80" fill="#000"/>
<text x="205.31" y="483.25" font-size="9.3" fill="#000" textLength="9.62" lengthAdjust="spacingAndGlyphs">50</text>
<rect x="219.80" y="508.28" width="4.60" height="1.80" fill="#000"/>
<text x="205.34" y="512.67" font-size="9.3" fill="#000" textLength="9.62" lengthAdjust="spacingAndGlyphs">25</text>
<rect x="219.80" y="537.70" width="4.60" height="1.80" fill="#000"/>
<text x="210.12" y="542.10" font-size="9.3" fill="#000" textLength="4.81" lengthAdjust="spacingAndGlyphs">0</text>
<rect x="220.30" y="537.55" width="216.50" height="2.10" fill="#000"/>
<rect x="230.20" y="538.60" width="1.80" height="4.20" fill="#000"/>
<text x="228.57" y="555.70" font-size="9.3" fill="#000" textLength="4.81" lengthAdjust="spacingAndGlyphs">1</text>
<rect x="243.50" y="538.60" width="1.80" height="4.20" fill="#000"/>
<text x="242.00" y="555.70" font-size="9.3" fill="#000" textLength="4.81" lengthAdjust="spacingAndGlyphs">2</text>
<rect x="256.80" y="538.60" width="1.80" height="4.20" fill="#000"/>
<text x="255.32" y="555.70" font-size="9.3" fill="#000" textLength="4.81" lengthAdjust="spacingAndGlyphs">3</text>
<rect x="270.10" y="538.60" width="1.80" height="4.20" fill="#000"/>
<text x="268.63" y="555.70" font-size="9.3" fill="#000" textLength="4.81" lengthAdjust="spacingAndGlyphs">4</text>
<rect x="283.40" y="538.60" width="1.80" height="4.20" fill="#000"/>
<text x="281.90" y="555.70" font-size="9.3" fill="#000" textLength="4.81" lengthAdjust="spacingAndGlyphs">5</text>
<rect x="296.70" y="538.60" width="1.80" height="4.20" fill="#000"/>
<text x="295.17" y="555.70" font-size="9.3" fill="#000" textLength="4.81" lengthAdjust="spacingAndGlyphs">6</text>
<rect x="310.00" y="538.60" width="1.80" height="4.20" fill="#000"/>
<text x="308.49" y="555.70" font-size="9.3" fill="#000" textLength="4.81" lengthAdjust="spacingAndGlyphs">7</text>
<rect x="323.30" y="538.60" width="1.80" height="4.20" fill="#000"/>
<text x="321.80" y="555.70" font-size="9.3" fill="#000" textLength="4.81" lengthAdjust="spacingAndGlyphs">8</text>
<rect x="336.60" y="538.60" width="1.80" height="4.20" fill="#000"/>
<text x="335.10" y="555.70" font-size="9.3" fill="#000" textLength="4.81" lengthAdjust="spacingAndGlyphs">9</text>
<rect x="349.90" y="538.60" width="1.80" height="4.20" fill="#000"/>
<text x="345.83" y="555.70" font-size="9.3" fill="#000" textLength="9.62" lengthAdjust="spacingAndGlyphs">10</text>
<rect x="363.20" y="538.60" width="1.80" height="4.20" fill="#000"/>
<text x="359.49" y="555.70" font-size="9.3" fill="#000" textLength="8.98" lengthAdjust="spacingAndGlyphs">11</text>
<rect x="376.50" y="538.60" width="1.80" height="4.20" fill="#000"/>
<text x="372.48" y="555.70" font-size="9.3" fill="#000" textLength="9.62" lengthAdjust="spacingAndGlyphs">12</text>
<rect x="389.80" y="538.60" width="1.80" height="4.20" fill="#000"/>
<text x="385.75" y="555.70" font-size="9.3" fill="#000" textLength="9.62" lengthAdjust="spacingAndGlyphs">13</text>
<rect x="403.10" y="538.60" width="1.80" height="4.20" fill="#000"/>
<text x="398.99" y="555.70" font-size="9.3" fill="#000" textLength="9.62" lengthAdjust="spacingAndGlyphs">14</text>
<rect x="416.40" y="538.60" width="1.80" height="4.20" fill="#000"/>
<text x="412.34" y="555.70" font-size="9.3" fill="#000" textLength="9.62" lengthAdjust="spacingAndGlyphs">15</text>
<rect x="429.70" y="538.60" width="1.80" height="4.20" fill="#000"/>
<text x="425.65" y="555.70" font-size="9.3" fill="#000" textLength="9.62" lengthAdjust="spacingAndGlyphs">16</text>
<text x="320.09" y="570.90" font-size="10" fill="#000" textLength="20.94" lengthAdjust="spacingAndGlyphs">Tone</text>
<text transform="translate(190.62,516.30) rotate(-90)" x="-0.34" y="0" font-size="10.5" textLength="72.46" lengthAdjust="spacingAndGlyphs">% Time Freezing</text>
<text x="182.26" y="415.20" font-size="13.5" font-weight="bold" fill="#000" textLength="9.47" lengthAdjust="spacingAndGlyphs">g</text>
<line x1="231.10" y1="443.97" x2="231.10" y2="421.02" stroke="#000" stroke-width="1.3"/>
<line x1="227.60" y1="421.02" x2="234.60" y2="421.02" stroke="#000" stroke-width="1.3"/>
<line x1="231.10" y1="443.97" x2="231.10" y2="466.92" stroke="#000" stroke-width="1.3"/>
<line x1="227.60" y1="466.92" x2="234.60" y2="466.92" stroke="#000" stroke-width="1.3"/>
<line x1="244.40" y1="439.85" x2="244.40" y2="421.02" stroke="#000" stroke-width="1.3"/>
<line x1="240.90" y1="421.02" x2="247.90" y2="421.02" stroke="#000" stroke-width="1.3"/>
<line x1="244.40" y1="439.85" x2="244.40" y2="458.68" stroke="#000" stroke-width="1.3"/>
<line x1="240.90" y1="458.68" x2="247.90" y2="458.68" stroke="#000" stroke-width="1.3"/>
<line x1="257.70" y1="457.98" x2="257.70" y2="434.44" stroke="#000" stroke-width="1.3"/>
<line x1="254.20" y1="434.44" x2="261.20" y2="434.44" stroke="#000" stroke-width="1.3"/>
<line x1="257.70" y1="457.98" x2="257.70" y2="481.52" stroke="#000" stroke-width="1.3"/>
<line x1="254.20" y1="481.52" x2="261.20" y2="481.52" stroke="#000" stroke-width="1.3"/>
<line x1="271.00" y1="493.17" x2="271.00" y2="467.27" stroke="#000" stroke-width="1.3"/>
<line x1="267.50" y1="467.27" x2="274.50" y2="467.27" stroke="#000" stroke-width="1.3"/>
<line x1="271.00" y1="493.17" x2="271.00" y2="519.06" stroke="#000" stroke-width="1.3"/>
<line x1="267.50" y1="519.06" x2="274.50" y2="519.06" stroke="#000" stroke-width="1.3"/>
<line x1="284.30" y1="483.28" x2="284.30" y2="459.74" stroke="#000" stroke-width="1.3"/>
<line x1="280.80" y1="459.74" x2="287.80" y2="459.74" stroke="#000" stroke-width="1.3"/>
<line x1="284.30" y1="483.28" x2="284.30" y2="506.82" stroke="#000" stroke-width="1.3"/>
<line x1="280.80" y1="506.82" x2="287.80" y2="506.82" stroke="#000" stroke-width="1.3"/>
<line x1="297.60" y1="502.94" x2="297.60" y2="487.05" stroke="#000" stroke-width="1.3"/>
<line x1="294.10" y1="487.05" x2="301.10" y2="487.05" stroke="#000" stroke-width="1.3"/>
<line x1="297.60" y1="502.94" x2="297.60" y2="518.83" stroke="#000" stroke-width="1.3"/>
<line x1="294.10" y1="518.83" x2="301.10" y2="518.83" stroke="#000" stroke-width="1.3"/>
<line x1="310.90" y1="494.82" x2="310.90" y2="472.92" stroke="#000" stroke-width="1.3"/>
<line x1="307.40" y1="472.92" x2="314.40" y2="472.92" stroke="#000" stroke-width="1.3"/>
<line x1="310.90" y1="494.82" x2="310.90" y2="516.71" stroke="#000" stroke-width="1.3"/>
<line x1="307.40" y1="516.71" x2="314.40" y2="516.71" stroke="#000" stroke-width="1.3"/>
<line x1="324.20" y1="508.94" x2="324.20" y2="494.82" stroke="#000" stroke-width="1.3"/>
<line x1="320.70" y1="494.82" x2="327.70" y2="494.82" stroke="#000" stroke-width="1.3"/>
<line x1="324.20" y1="508.94" x2="324.20" y2="523.06" stroke="#000" stroke-width="1.3"/>
<line x1="320.70" y1="523.06" x2="327.70" y2="523.06" stroke="#000" stroke-width="1.3"/>
<line x1="337.50" y1="515.53" x2="337.50" y2="501.41" stroke="#000" stroke-width="1.3"/>
<line x1="334.00" y1="501.41" x2="341.00" y2="501.41" stroke="#000" stroke-width="1.3"/>
<line x1="337.50" y1="515.53" x2="337.50" y2="529.65" stroke="#000" stroke-width="1.3"/>
<line x1="334.00" y1="529.65" x2="341.00" y2="529.65" stroke="#000" stroke-width="1.3"/>
<line x1="350.80" y1="493.17" x2="350.80" y2="473.39" stroke="#000" stroke-width="1.3"/>
<line x1="347.30" y1="473.39" x2="354.30" y2="473.39" stroke="#000" stroke-width="1.3"/>
<line x1="350.80" y1="493.17" x2="350.80" y2="512.94" stroke="#000" stroke-width="1.3"/>
<line x1="347.30" y1="512.94" x2="354.30" y2="512.94" stroke="#000" stroke-width="1.3"/>
<line x1="364.10" y1="493.52" x2="364.10" y2="468.10" stroke="#000" stroke-width="1.3"/>
<line x1="360.60" y1="468.10" x2="367.60" y2="468.10" stroke="#000" stroke-width="1.3"/>
<line x1="364.10" y1="493.52" x2="364.10" y2="518.94" stroke="#000" stroke-width="1.3"/>
<line x1="360.60" y1="518.94" x2="367.60" y2="518.94" stroke="#000" stroke-width="1.3"/>
<line x1="377.40" y1="498.58" x2="377.40" y2="476.57" stroke="#000" stroke-width="1.3"/>
<line x1="373.90" y1="476.57" x2="380.90" y2="476.57" stroke="#000" stroke-width="1.3"/>
<line x1="377.40" y1="498.58" x2="377.40" y2="520.59" stroke="#000" stroke-width="1.3"/>
<line x1="373.90" y1="520.59" x2="380.90" y2="520.59" stroke="#000" stroke-width="1.3"/>
<line x1="390.70" y1="499.64" x2="390.70" y2="483.05" stroke="#000" stroke-width="1.3"/>
<line x1="387.20" y1="483.05" x2="394.20" y2="483.05" stroke="#000" stroke-width="1.3"/>
<line x1="390.70" y1="499.64" x2="390.70" y2="516.24" stroke="#000" stroke-width="1.3"/>
<line x1="387.20" y1="516.24" x2="394.20" y2="516.24" stroke="#000" stroke-width="1.3"/>
<line x1="404.00" y1="497.52" x2="404.00" y2="485.63" stroke="#000" stroke-width="1.3"/>
<line x1="400.50" y1="485.63" x2="407.50" y2="485.63" stroke="#000" stroke-width="1.3"/>
<line x1="404.00" y1="497.52" x2="404.00" y2="509.41" stroke="#000" stroke-width="1.3"/>
<line x1="400.50" y1="509.41" x2="407.50" y2="509.41" stroke="#000" stroke-width="1.3"/>
<line x1="417.30" y1="483.28" x2="417.30" y2="466.57" stroke="#000" stroke-width="1.3"/>
<line x1="413.80" y1="466.57" x2="420.80" y2="466.57" stroke="#000" stroke-width="1.3"/>
<line x1="417.30" y1="483.28" x2="417.30" y2="499.99" stroke="#000" stroke-width="1.3"/>
<line x1="413.80" y1="499.99" x2="420.80" y2="499.99" stroke="#000" stroke-width="1.3"/>
<line x1="430.60" y1="490.93" x2="430.60" y2="464.80" stroke="#000" stroke-width="1.3"/>
<line x1="427.10" y1="464.80" x2="434.10" y2="464.80" stroke="#000" stroke-width="1.3"/>
<line x1="430.60" y1="490.93" x2="430.60" y2="517.06" stroke="#000" stroke-width="1.3"/>
<line x1="427.10" y1="517.06" x2="434.10" y2="517.06" stroke="#000" stroke-width="1.3"/>
<polyline points="231.10,443.97 244.40,439.85 257.70,457.98 271.00,493.17 284.30,483.28 297.60,502.94 310.90,494.82 324.20,508.94 337.50,515.53 350.80,493.17 364.10,493.52 377.40,498.58 390.70,499.64 404.00,497.52 417.30,483.28 430.60,490.93" fill="none" stroke="#000" stroke-width="2.2" stroke-linejoin="round"/>
<circle cx="231.10" cy="443.97" r="3.4" fill="#000"/>
<circle cx="244.40" cy="439.85" r="3.4" fill="#000"/>
<circle cx="257.70" cy="457.98" r="3.4" fill="#000"/>
<circle cx="271.00" cy="493.17" r="3.4" fill="#000"/>
<circle cx="284.30" cy="483.28" r="3.4" fill="#000"/>
<circle cx="297.60" cy="502.94" r="3.4" fill="#000"/>
<circle cx="310.90" cy="494.82" r="3.4" fill="#000"/>
<circle cx="324.20" cy="508.94" r="3.4" fill="#000"/>
<circle cx="337.50" cy="515.53" r="3.4" fill="#000"/>
<circle cx="350.80" cy="493.17" r="3.4" fill="#000"/>
<circle cx="364.10" cy="493.52" r="3.4" fill="#000"/>
<circle cx="377.40" cy="498.58" r="3.4" fill="#000"/>
<circle cx="390.70" cy="499.64" r="3.4" fill="#000"/>
<circle cx="404.00" cy="497.52" r="3.4" fill="#000"/>
<circle cx="417.30" cy="483.28" r="3.4" fill="#000"/>
<circle cx="430.60" cy="490.93" r="3.4" fill="#000"/>
<rect x="491.75" y="420.40" width="2.10" height="119.60" fill="#000"/>
<rect x="488.20" y="420.45" width="4.60" height="1.80" fill="#000"/>
<text x="473.32" y="424.85" font-size="9.3" font-weight="bold" fill="#000" textLength="9.62" lengthAdjust="spacingAndGlyphs">25</text>
<rect x="488.20" y="444.00" width="4.60" height="1.80" fill="#000"/>
<text x="473.43" y="448.40" font-size="9.3" font-weight="bold" fill="#000" textLength="9.62" lengthAdjust="spacingAndGlyphs">20</text>
<rect x="488.20" y="467.55" width="4.60" height="1.80" fill="#000"/>
<text x="473.32" y="471.95" font-size="9.3" font-weight="bold" fill="#000" textLength="9.62" lengthAdjust="spacingAndGlyphs">15</text>
<rect x="488.20" y="491.10" width="4.60" height="1.80" fill="#000"/>
<text x="473.43" y="495.50" font-size="9.3" font-weight="bold" fill="#000" textLength="9.62" lengthAdjust="spacingAndGlyphs">10</text>
<rect x="488.20" y="514.65" width="4.60" height="1.80" fill="#000"/>
<text x="478.12" y="519.05" font-size="9.3" font-weight="bold" fill="#000" textLength="4.81" lengthAdjust="spacingAndGlyphs">5</text>
<rect x="488.20" y="538.20" width="4.60" height="1.80" fill="#000"/>
<text x="478.24" y="542.60" font-size="9.3" font-weight="bold" fill="#000" textLength="4.81" lengthAdjust="spacingAndGlyphs">0</text>
<rect x="487.50" y="537.95" width="182.40" height="2.10" fill="#000"/>
<text transform="translate(464.68,528.60) rotate(-90)" x="-0.21" y="0" font-size="10" textLength="97.23" lengthAdjust="spacingAndGlyphs">Trials to Meet Criterion</text>
<text x="454.62" y="417.60" font-size="13.5" font-weight="bold" fill="#000" textLength="9.54" lengthAdjust="spacingAndGlyphs">h</text>
<defs><pattern id="stripe" patternUnits="userSpaceOnUse" width="4" height="2.6" y="0"><rect width="4" height="2.6" fill="#f8f8f8"/><rect y="0" width="4" height="1.25" fill="#8f8f8f"/></pattern></defs>
<line x1="522.10" y1="504.30" x2="522.10" y2="498.20" stroke="#000" stroke-width="1.5"/>
<line x1="512.05" y1="498.20" x2="532.15" y2="498.20" stroke="#000" stroke-width="1.5"/>
<rect x="502.65" y="505.05" width="39.00" height="33.95" fill="#fff" stroke="#000" stroke-width="1.5"/>
<line x1="581.30" y1="459.00" x2="581.30" y2="445.10" stroke="#000" stroke-width="1.5"/>
<line x1="571.25" y1="445.10" x2="591.35" y2="445.10" stroke="#000" stroke-width="1.5"/>
<rect x="562.05" y="459.75" width="38.50" height="79.25" fill="url(#stripe)" stroke="#000" stroke-width="1.5"/>
<line x1="640.00" y1="494.90" x2="640.00" y2="488.40" stroke="#000" stroke-width="1.5"/>
<line x1="629.95" y1="488.40" x2="650.05" y2="488.40" stroke="#000" stroke-width="1.5"/>
<rect x="620.75" y="495.65" width="38.80" height="43.35" fill="#000" stroke="#000" stroke-width="1.5"/>
<text x="578.86" y="442.70" font-size="12.5" font-weight="bold" fill="#000" textLength="4.86" lengthAdjust="spacingAndGlyphs">*</text>
<text x="635.63" y="486.60" font-size="15" fill="#000" textLength="8.76" lengthAdjust="spacingAndGlyphs">+</text>
<rect x="609.90" y="424.90" width="12.30" height="6.30" fill="#fff" stroke="#000" stroke-width="1.6"/>
<rect x="609.90" y="438.70" width="12.30" height="6.40" fill="#fff" stroke="#000" stroke-width="1.6"/>
<line x1="610.50" y1="441.90" x2="622.20" y2="441.90" stroke="#444" stroke-width="1.1"/>
<rect x="609.10" y="451.60" width="13.90" height="8.20" fill="#000"/>
<text x="628.41" y="432.00" font-size="9.6" fill="#000" textLength="49.74" lengthAdjust="spacingAndGlyphs">Ctrl - Tones</text>
<text x="628.41" y="445.80" font-size="9.6" fill="#000" textLength="55.85" lengthAdjust="spacingAndGlyphs">CUS - Tones</text>
<text x="628.43" y="459.60" font-size="9.6" fill="#000" textLength="42.04" lengthAdjust="spacingAndGlyphs">CUS - Ext</text>
</svg>
</body></html>
